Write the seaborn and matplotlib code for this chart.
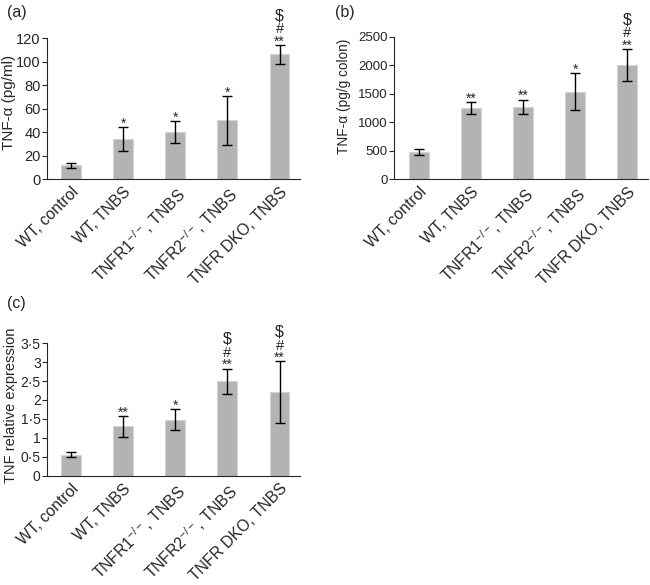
import numpy as np
import pandas as pd
import matplotlib
matplotlib.use("Agg")
import matplotlib.pyplot as plt
import seaborn as sns

groups = ["WT, control", "WT, TNBS", "TNFR1$^{-/-}$, TNBS",
          "TNFR2$^{-/-}$, TNBS", "TNFR DKO, TNBS"]

# (a) serum TNF-alpha
tnf_serum = [11.5, 34, 40, 50, 106]
tnf_serum_err = [2.5, 10.5, 9, 21, 8]
marks_a = ["", "*", "*", "*", "**|#|$"]

# (b) colon TNF-alpha
tnf_colon = [472, 1250, 1268, 1533, 2000]
tnf_colon_err = [53, 100, 130, 325, 285]
marks_b = ["", "**", "**", "*", "**|#|$"]

# (c) relative expression
tnf_rel = [0.55, 1.30, 1.48, 2.50, 2.20]
tnf_rel_err = [0.07, 0.27, 0.28, 0.33, 0.82]
marks_c = ["", "**", "*", "**|#|$", "**|#|$"]

sns.set_style("ticks")
plt.rcParams['font.family'] = ['Liberation Sans', 'DejaVu Sans']
plt.rcParams['mathtext.fontset'] = 'custom'
plt.rcParams['mathtext.rm'] = 'Liberation Sans'
plt.rcParams['mathtext.it'] = 'Liberation Sans'

BAR = "#b3b3b3"
# baseline offsets (points) above the error bar top for stacked marks
MARK_OFF = {"*": -0.5, "**": -0.5, "#": 8.5, "$": 18.0}
MARK_FS = {"*": 10, "**": 10, "#": 10.5, "$": 11.5}

fig = plt.figure(figsize=(6.5, 5.85), dpi=100)
ax_a = fig.add_axes([0.0723, 0.694, 0.389, 0.241])
ax_b = fig.add_axes([0.606, 0.694, 0.391, 0.243])
ax_c = fig.add_axes([0.0723, 0.187, 0.389, 0.2263])


def draw_panel(ax, vals, errs, marks, ylim, yticks, yticklabels, ylabel,
               xlim, label_pos, label_fs, tick_fs):
    df = pd.DataFrame({"group": groups, "value": vals})
    sns.barplot(data=df, x="group", y="value", color=BAR, width=0.38,
                edgecolor="#d4d4d4", linewidth=0.8, saturation=1,
                errorbar=None, ax=ax)
    ax.errorbar(np.arange(len(vals)), vals, yerr=errs, fmt="none",
                ecolor="black", elinewidth=1.0, capsize=3.5, capthick=1.0)
    for i, (v, e, m) in enumerate(zip(vals, errs, marks)):
        if not m:
            continue
        for ln in m.split("|"):
            txt = ax.annotate(ln.replace("$", r"\$"), xy=(i, v + e),
                              xytext=(0, MARK_OFF[ln]),
                              textcoords="offset points", ha="center",
                              va="baseline", fontsize=MARK_FS[ln],
                              annotation_clip=False)
            txt.set_clip_on(False)
    ax.set_ylim(*ylim)
    ax.set_xlim(*xlim)
    ax.set_yticks(yticks)
    ax.set_yticklabels(yticklabels)
    ax.set_ylabel(ylabel, fontsize=label_fs)
    ax.yaxis.set_label_coords(*label_pos)
    ax.set_xlabel("")
    ax.set_xticks(range(len(groups)))
    ax.set_xticklabels(groups, rotation=45, ha="right",
                       rotation_mode="anchor", fontsize=11.3)
    ax.tick_params(axis="y", labelsize=tick_fs, length=3.5, width=0.8, pad=1)
    ax.tick_params(axis="x", length=0, pad=4)
    for s in ["top", "right"]:
        ax.spines[s].set_visible(False)
    for s in ["left", "bottom"]:
        ax.spines[s].set_linewidth(0.8)


draw_panel(ax_a, tnf_serum, tnf_serum_err, marks_a, (0, 120),
           range(0, 121, 20), [str(t) for t in range(0, 121, 20)],
           "TNF-α (pg/ml)", (-0.46, 4.39), (-0.122, 0.546), 11, 10.5)
draw_panel(ax_b, tnf_colon, tnf_colon_err, marks_b, (0, 2500),
           range(0, 2501, 500), [str(t) for t in range(0, 2501, 500)],
           "TNF-α (pg/g colon)", (-0.48, 4.4), (-0.169, 0.584), 9.8, 9.5)
c_ticks = [0, 0.5, 1, 1.5, 2, 2.5, 3, 3.5]
c_labels = ["0", "0·5", "1", "1·5", "2", "2·5", "3", "3·5"]
draw_panel(ax_c, tnf_rel, tnf_rel_err, marks_c, (0, 3.5),
           c_ticks, c_labels, "TNF relative expression", (-0.46, 4.39),
           (-0.115, 0.534), 10.5, 10)

fig.text(0.011, 0.979, "(a)", fontsize=11.5, va="center")
fig.text(0.515, 0.979, "(b)", fontsize=11.5, va="center")
fig.text(0.011, 0.481, "(c)", fontsize=11.5, va="center")

fig.savefig("out.png", dpi=100)
